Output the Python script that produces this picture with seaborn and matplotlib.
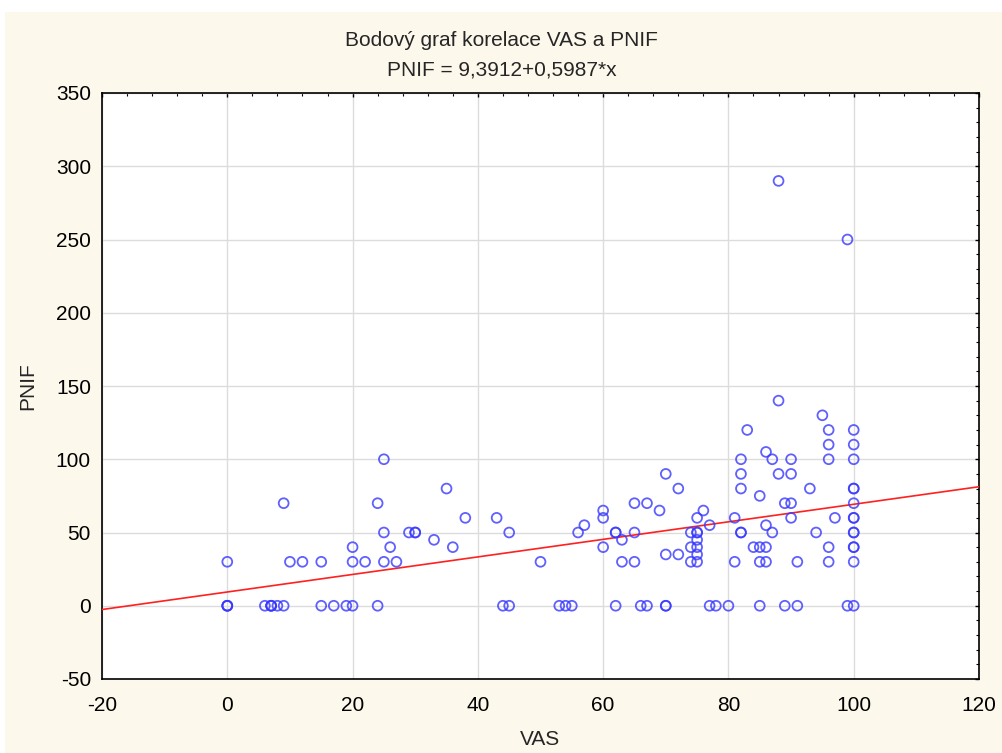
import numpy as np
import pandas as pd
import matplotlib
matplotlib.use("Agg")
import matplotlib.pyplot as plt
import seaborn as sns
from matplotlib.patches import Rectangle
from matplotlib.ticker import MultipleLocator

# VAS / PNIF pairs
vas = [0, 0, 0, 0, 9, 10, 12, 15, 20, 20, 22, 24, 25, 25, 25, 26, 27, 29, 30, 30, 33, 35, 36, 38,
       6, 7, 7, 7, 8, 9, 15, 17, 19, 20, 24,
       43, 45, 50, 56, 57, 60, 60, 60, 62, 62, 63, 63, 65, 65, 65, 67, 69, 70, 70, 72, 72,
       74, 74, 74, 75, 75, 75, 75, 75, 75, 75, 76, 77,
       44, 45, 53, 54, 55, 62, 66, 67, 70, 70,
       81, 81, 82, 82, 82, 82, 82, 83, 84, 85, 86, 85, 85, 86, 86, 86, 87, 87, 88, 88,
       89, 90, 90, 90, 90, 91, 93, 94, 95, 96, 96, 96, 96, 96, 97,
       100, 100, 100, 100, 100, 100, 100, 100, 100, 100, 100, 100, 100,
       77, 78, 80, 85, 89, 91, 99, 100,
       88, 99]
pnif = [30, 0, 0, 0, 70, 30, 30, 30, 30, 40, 30, 70, 100, 50, 30, 40, 30, 50, 50, 50, 45, 80, 40, 60,
        0, 0, 0, 0, 0, 0, 0, 0, 0, 0, 0,
        60, 50, 30, 50, 55, 65, 60, 40, 50, 50, 45, 30, 70, 50, 30, 70, 65, 90, 35, 80, 35,
        50, 40, 30, 60, 50, 50, 45, 40, 35, 30, 65, 55,
        0, 0, 0, 0, 0, 0, 0, 0, 0, 0,
        60, 30, 100, 90, 80, 50, 50, 120, 40, 40, 40, 75, 30, 30, 105, 55, 100, 50, 140, 90,
        70, 70, 100, 90, 60, 30, 80, 50, 130, 120, 110, 100, 40, 30, 60,
        120, 110, 100, 80, 80, 70, 60, 60, 50, 50, 40, 40, 30,
        0, 0, 0, 0, 0, 0, 0, 0,
        290, 250]

intercept = 9.3912
slope = 0.5987

df = pd.DataFrame({"VAS": vas, "PNIF": pnif})

sns.set_style("white")
plt.rcParams["font.family"] = ["Liberation Sans", "DejaVu Sans"]
plt.rcParams["axes.unicode_minus"] = False

fig = plt.figure(figsize=(10.03, 7.53), dpi=100)
fig.patch.set_facecolor("white")
fig.patches.append(Rectangle((5 / 1003, 0), 1, 1 - 12 / 753, transform=fig.transFigure,
                             facecolor="#fdf8ec", edgecolor="none", zorder=-10))
ax = fig.add_axes([102 / 1003, 1 - 679 / 753, (979 - 102) / 1003, (679 - 93) / 753])
ax.set_facecolor("white")

xlim = (-20, 120)
ylim = (-50, 350)

# regression line
line_x = np.array(xlim, dtype=float)
sns.lineplot(x=line_x, y=intercept + slope * line_x, color="#ff2020", linewidth=1.2, ax=ax, zorder=3)

sns.scatterplot(data=df, x="VAS", y="PNIF", ax=ax, marker="o", s=50,
                facecolor="none", edgecolor="#3838ff", linewidth=1.3, alpha=0.8, zorder=4)

ax.set_xlim(*xlim)
ax.set_ylim(*ylim)
ax.xaxis.set_major_locator(MultipleLocator(20))
ax.xaxis.set_minor_locator(MultipleLocator(4))
ax.yaxis.set_major_locator(MultipleLocator(50))
ax.yaxis.set_minor_locator(MultipleLocator(10))
ax.grid(True, which="major", color="#dcdcdc", linewidth=1.0)
ax.set_axisbelow(True)
ax.tick_params(which="both", direction="in", top=True, right=True, colors="black", labelsize=15)
ax.tick_params(which="major", length=3, width=1.0)
ax.tick_params(which="minor", length=2, width=0.8)
ax.tick_params(axis="x", which="major", pad=12)
ax.tick_params(axis="y", which="major", pad=8)
for s in ax.spines.values():
    s.set_color("black")
    s.set_linewidth(1.2)

ax.set_xlabel("VAS", fontsize=15, labelpad=11)
ax.set_ylabel("PNIF", fontsize=15, labelpad=13)
fig.text(0.5, 1 - 46 / 753, "Bodový graf korelace VAS a PNIF", ha="center", va="baseline", fontsize=15)
fig.text(0.5, 1 - 75 / 753, "PNIF = 9,3912+0,5987*x", ha="center", va="baseline", fontsize=15)

fig.savefig("out.png", dpi=100, facecolor=fig.get_facecolor())
